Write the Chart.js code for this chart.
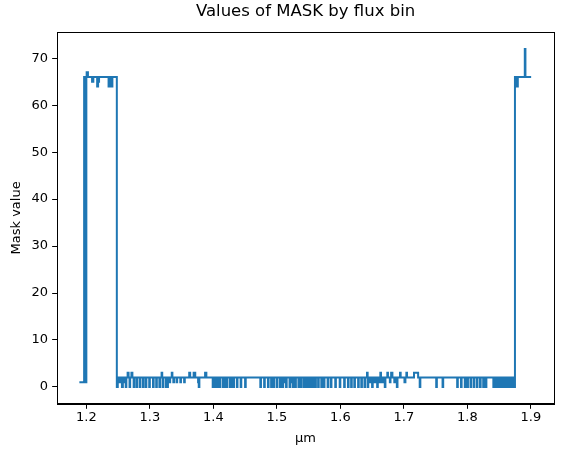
<!DOCTYPE html>
<html>
<head>
<meta charset="utf-8">
<script src="https://cdn.jsdelivr.net/npm/chart.js@4/dist/chart.umd.min.js"></script>
<style>
  body { margin: 0; background: #fff; }
</style>
</head>
<body>
<canvas id="chart" width="562" height="456"></canvas>
<script>
// flux bins where the mask value changes (µm) and the value from there on
let wavelength = [
  1.1890, 1.1965, 1.1975, 1.1985, 1.1992, 1.2000, 1.2005, 1.2025, 1.2090, 1.2110,
  1.2170, 1.2185, 1.2200, 1.2350, 1.2365, 1.2390, 1.2410,
  // noisy low part
  1.2480, 1.2495, 1.2505, 1.2520, 1.2530, 1.2545, 1.2560, 1.2575, 1.2590, 1.2600,
  1.2620, 1.2630, 1.2650, 1.2665, 1.2680, 1.2690, 1.2710, 1.2725, 1.2745, 1.2755,
  1.2790, 1.2800, 1.2840, 1.2850, 1.2890, 1.2900, 1.2935, 1.2945, 1.2990, 1.3000,
  1.3050, 1.3060, 1.3100, 1.3110, 1.3150, 1.3160, 1.3185, 1.3195, 1.3200, 1.3210,
  1.3250, 1.3258, 1.3275, 1.3285, 1.3310, 1.3320, 1.3345, 1.3355, 1.3370, 1.3380,
  1.3420, 1.3430, 1.3480, 1.3490, 1.3540, 1.3550, 1.3620, 1.3635, 1.3690, 1.3715,
  1.3760, 1.3770, 1.3780, 1.3870, 1.3890,
  1.3990, 1.4000, 1.4020, 1.4030, 1.4045, 1.4055, 1.4070, 1.4080, 1.4100, 1.4110,
  1.4150, 1.4160, 1.4180, 1.4190, 1.4210, 1.4220, 1.4260, 1.4270, 1.4290, 1.4300,
  1.4315, 1.4325, 1.4370, 1.4380, 1.4430, 1.4440, 1.4500, 1.4510,
  1.4740, 1.4750, 1.4800, 1.4810, 1.4860, 1.4870, 1.4910, 1.4920, 1.4950, 1.4960,
  1.5000, 1.5010, 1.5050, 1.5060, 1.5090, 1.5100, 1.5130, 1.5145, 1.5155, 1.5200,
  1.5210, 1.5240, 1.5250, 1.5260, 1.5290, 1.5300, 1.5340, 1.5350, 1.5375, 1.5385,
  1.5420, 1.5430, 1.5460, 1.5470, 1.5500, 1.5510, 1.5540, 1.5550, 1.5570, 1.5580,
  1.5605, 1.5615, 1.5650, 1.5660, 1.5700, 1.5710, 1.5740, 1.5750, 1.5800, 1.5810,
  1.5850, 1.5860, 1.5920, 1.5930, 1.5990, 1.6000, 1.6060, 1.6070, 1.6120, 1.6130,
  1.6170, 1.6180, 1.6220, 1.6230, 1.6280, 1.6290, 1.6330, 1.6340, 1.6380, 1.6390,
  1.6420, 1.6430, 1.6440, 1.6470, 1.6480, 1.6500, 1.6510, 1.6540, 1.6555, 1.6580,
  1.6590, 1.6620, 1.6630, 1.6640, 1.6660, 1.6670, 1.6700, 1.6710, 1.6740, 1.6750,
  1.6780, 1.6790, 1.6800, 1.6820, 1.6850, 1.6860, 1.6890, 1.6900, 1.6940, 1.6950,
  1.7010, 1.7025, 1.7040, 1.7050, 1.7160, 1.7225, 1.7250, 1.7260,
  1.7510, 1.7520, 1.7610, 1.7620,
  1.7840, 1.7850, 1.7900, 1.7910, 1.7960, 1.7970, 1.8000, 1.8010, 1.8050, 1.8060,
  1.8100, 1.8110, 1.8150, 1.8160, 1.8200, 1.8210, 1.8250, 1.8260, 1.8290, 1.8300,
  1.8410, 1.8420, 1.8440, 1.8450, 1.8470, 1.8480, 1.8500, 1.8510, 1.8530, 1.8540,
  1.8560, 1.8570, 1.8590, 1.8600, 1.8620, 1.8630, 1.8650, 1.8660, 1.8680, 1.8690,
  1.8710, 1.8720, 1.8735,
  // high part at the red end
  1.8750, 1.8765, 1.8795, 1.8905, 1.8915, 1.9005
];

let maskValue = [
  1, 66, 1, 66, 1, 66, 67, 66, 65, 66,
  64, 65, 66, 64, 66, 64, 66,
  0, 2, 1, 2, 1, 2, 0, 2, 1, 2,
  0, 2, 3, 2, 0, 2, 3, 2, 0, 2,
  0, 2, 0, 2, 0, 2, 0, 2, 0, 2,
  0, 2, 0, 2, 0, 2, 3, 2, 0, 2,
  0, 2, 0, 2, 1, 2, 3, 2, 1, 2,
  1, 2, 1, 2, 1, 2, 3, 2, 3, 2,
  1, 0, 2, 3, 2,
  0, 2, 0, 2, 0, 2, 0, 2, 0, 2,
  0, 2, 0, 2, 0, 2, 0, 2, 0, 2,
  0, 2, 0, 2, 0, 2, 0, 2,
  0, 2, 0, 2, 0, 2, 0, 2, 0, 2,
  0, 2, 0, 2, 0, 2, 1, 0, 2, 0,
  2, 1, 0, 2, 0, 2, 0, 2, 0, 2,
  0, 2, 0, 2, 0, 2, 0, 2, 0, 2,
  0, 2, 0, 2, 0, 2, 0, 2, 0, 2,
  0, 2, 0, 2, 0, 2, 0, 2, 0, 2,
  0, 2, 0, 2, 0, 2, 0, 2, 0, 2,
  3, 0, 2, 1, 2, 0, 2, 1, 2, 0,
  2, 1, 3, 2, 1, 2, 0, 2, 3, 2,
  1, 2, 3, 2, 1, 2, 0, 2, 3, 2,
  1, 2, 3, 2, 3, 2, 0, 2,
  0, 2, 0, 2,
  0, 2, 0, 2, 0, 2, 0, 2, 0, 2,
  0, 2, 0, 2, 0, 2, 0, 2, 0, 2,
  0, 2, 0, 2, 0, 2, 0, 2, 0, 2,
  0, 2, 0, 2, 0, 2, 0, 2, 0, 2,
  0, 2, 0,
  66, 64, 66, 72, 66, 66
];

let xTicks = [1.2, 1.3, 1.4, 1.5, 1.6, 1.7, 1.8, 1.9];
let yTicks = [0, 10, 20, 30, 40, 50, 60, 70];
let chartTitle = 'Values of MASK by flux bin';

let points = wavelength.map((w, i) => ({ x: w, y: maskValue[i] }));

// full black frame round the plot and a title centred over the plot area
const framePlugin = {
  id: 'frame',
  afterDatasetsDraw(chart) {
    const a = chart.chartArea;
    const ctx = chart.ctx;
    ctx.save();
    ctx.strokeStyle = '#000';
    ctx.lineWidth = 1;
    ctx.strokeRect(Math.round(a.left) + 0.5, Math.round(a.top) + 0.5,
      Math.round(a.right - a.left), Math.round(a.bottom - a.top));
    ctx.fillStyle = '#000';
    ctx.font = '16.5px "DejaVu Sans"';
    ctx.textAlign = 'center';
    ctx.textBaseline = 'middle';
    ctx.fillText(chartTitle, (a.left + a.right) / 2, 12);
    ctx.restore();
  }
};

let font = { family: 'DejaVu Sans', size: 13 };

let ctx = document.getElementById('chart').getContext('2d');
new Chart(ctx, {
  type: 'line',
  data: {
    datasets: [{
      label: 'MASK',
      data: points,
      stepped: true,
      borderColor: '#1f77b4',
      borderWidth: 2,
      pointRadius: 0,
      fill: false
    }]
  },
  options: {
    responsive: false,
    animation: false,
    devicePixelRatio: 1,
    layout: { padding: { left: 9, right: 8, top: 32, bottom: 10 } },
    plugins: {
      legend: { display: false },
      tooltip: { enabled: false },
      title: { display: false }
    },
    scales: {
      x: {
        type: 'linear',
        min: 1.154,
        max: 1.9365,
        afterBuildTicks: (axis) => { axis.ticks = xTicks.map(v => ({ value: v })); },
        ticks: {
          color: '#000',
          font: font,
          padding: 1,
          maxRotation: 0,
          callback: (v) => Number(v).toFixed(1)
        },
        grid: { drawOnChartArea: false, drawTicks: true, tickLength: 5, color: '#000' },
        border: { display: true, color: '#000' },
        title: { display: true, text: 'µm', color: '#000', font: font, padding: { top: 4, bottom: 0 } }
      },
      y: {
        type: 'linear',
        min: -3.6,
        max: 75.6,
        afterBuildTicks: (axis) => { axis.ticks = yTicks.map(v => ({ value: v })); },
        ticks: { color: '#000', font: font, padding: 4 },
        grid: { drawOnChartArea: false, drawTicks: true, tickLength: 5, color: '#000' },
        border: { display: true, color: '#000' },
        title: { display: true, text: 'Mask value', color: '#000', font: font, padding: { top: 0, bottom: 3 } }
      }
    }
  },
  plugins: [framePlugin]
});
</script>
</body>
</html>
